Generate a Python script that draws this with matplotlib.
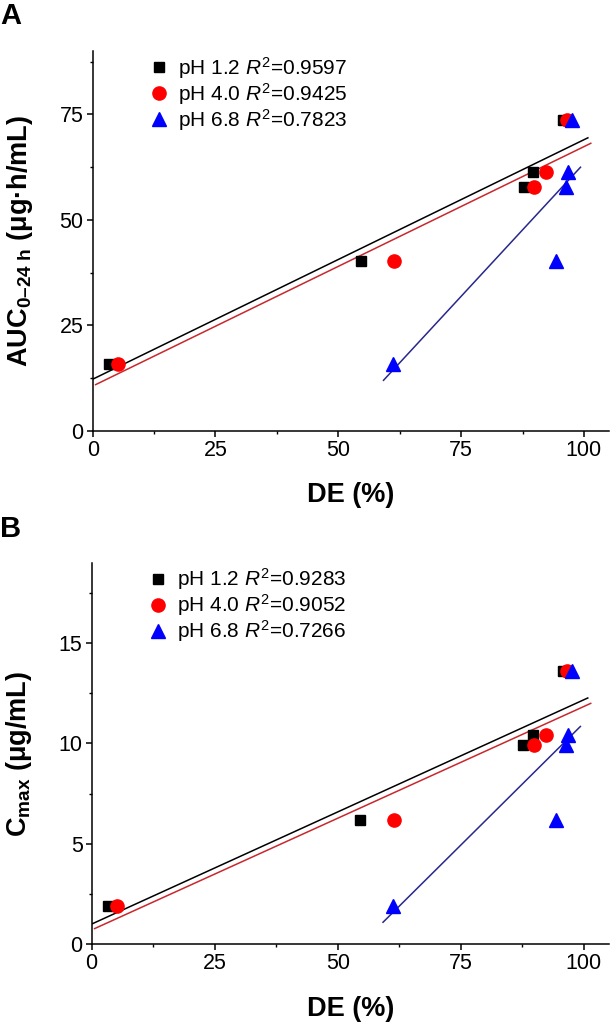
import numpy as np
import matplotlib
matplotlib.use("Agg")
import matplotlib.pyplot as plt
from matplotlib.ticker import MultipleLocator

plt.rcParams['font.family'] = ['Liberation Sans', 'DejaVu Sans']
plt.rcParams['mathtext.fontset'] = 'custom'
plt.rcParams['mathtext.rm'] = 'Liberation Sans'
plt.rcParams['mathtext.it'] = 'Liberation Sans:italic'
plt.rcParams['mathtext.bf'] = 'Liberation Sans:bold'

# DE (%) of the five formulations at each pH
de_ph12 = [3.3, 54.6, 87.7, 89.6, 95.8]
de_ph40 = [5.2, 61.4, 89.9, 92.3, 96.6]
de_ph68 = [61.2, 94.3, 96.3, 96.8, 97.6]

# in vivo values (same for every pH)
auc = [15.9, 40.2, 57.9, 61.3, 73.7]
cmax = [1.9, 6.2, 9.9, 10.4, 13.6]

labels_auc = ["pH 1.2 $R^2$=0.9597", "pH 4.0 $R^2$=0.9425", "pH 6.8 $R^2$=0.7823"]
labels_cmax = ["pH 1.2 $R^2$=0.9283", "pH 4.0 $R^2$=0.9052", "pH 6.8 $R^2$=0.7266"]

# x range over which each fit line is drawn
fit_span = [(0.0, 100.8), (0.6, 101.4), (59.2, 99.3)]

groups = [de_ph12, de_ph40, de_ph68]
marker_styles = [("s", "black", 7.5), ("o", "red", 9.5), ("^", "blue", 10)]
line_colors = ["black", "#c8282d", "#28288c"]


def draw_panel(ax, yvals, labels, ylim, yticks, yminor, ylabel):
    # fit lines first, markers on top
    for de, color, span in zip(groups, line_colors, fit_span):
        k, b = np.polyfit(de, yvals, 1)
        xs = np.array(span)
        ax.plot(xs, k * xs + b, color=color, lw=1.1, zorder=2)
    for de, (m, c, ms), lab in zip(groups, marker_styles, labels):
        ax.plot(de, yvals, ls="none", marker=m, color=c, ms=ms, label=lab, zorder=3)

    ax.set_xlim(0, 105.1)
    ax.set_ylim(*ylim)
    ax.xaxis.set_major_locator(MultipleLocator(25))
    ax.xaxis.set_minor_locator(MultipleLocator(12.5))
    ax.yaxis.set_major_locator(MultipleLocator(yticks))
    ax.yaxis.set_minor_locator(MultipleLocator(yminor))
    for s in ["top", "right"]:
        ax.spines[s].set_visible(False)
    for s in ["left", "bottom"]:
        ax.spines[s].set_linewidth(1.1)
    ax.tick_params(which="major", direction="out", length=4.5, width=1.1, labelsize=15.5, pad=2)
    ax.tick_params(which="minor", direction="out", length=2.5, width=1.0)

    ax.set_xlabel("DE (%)", fontsize=19.5, fontweight="bold")
    ax.xaxis.set_label_coords(0.5, -0.135)
    ax.set_ylabel(ylabel, fontsize=19.5, fontweight="bold")
    ax.yaxis.set_label_coords(-0.112, 0.5)

    ax.legend(loc="upper left", bbox_to_anchor=(0.108, 0.99), frameon=False,
              fontsize=15, handlelength=1.0, handletextpad=0.4, labelspacing=0.0,
              borderpad=0, borderaxespad=0)


fig = plt.figure(figsize=(6.11, 10.23), dpi=100)
ax_a = fig.add_axes([0.1517, 0.579, 0.845, 0.371])
ax_b = fig.add_axes([0.1500, 0.0769, 0.8466, 0.3731])

draw_panel(ax_a, auc, labels_auc, (0, 90), 25, 12.5,
           "AUC$_{\\mathbf{0\u201324\\ h}}$ (μg·h/mL)")
draw_panel(ax_b, cmax, labels_cmax, (0, 19), 5, 2.5,
           "C$_{\\mathbf{max}}$ (μg/mL)")

fig.text(0.018, 0.984, "A", fontsize=21, fontweight="bold", ha="center", va="center")
fig.text(0.018, 0.483, "B", fontsize=21, fontweight="bold", ha="center", va="center")

fig.savefig("out.png", dpi=100)
